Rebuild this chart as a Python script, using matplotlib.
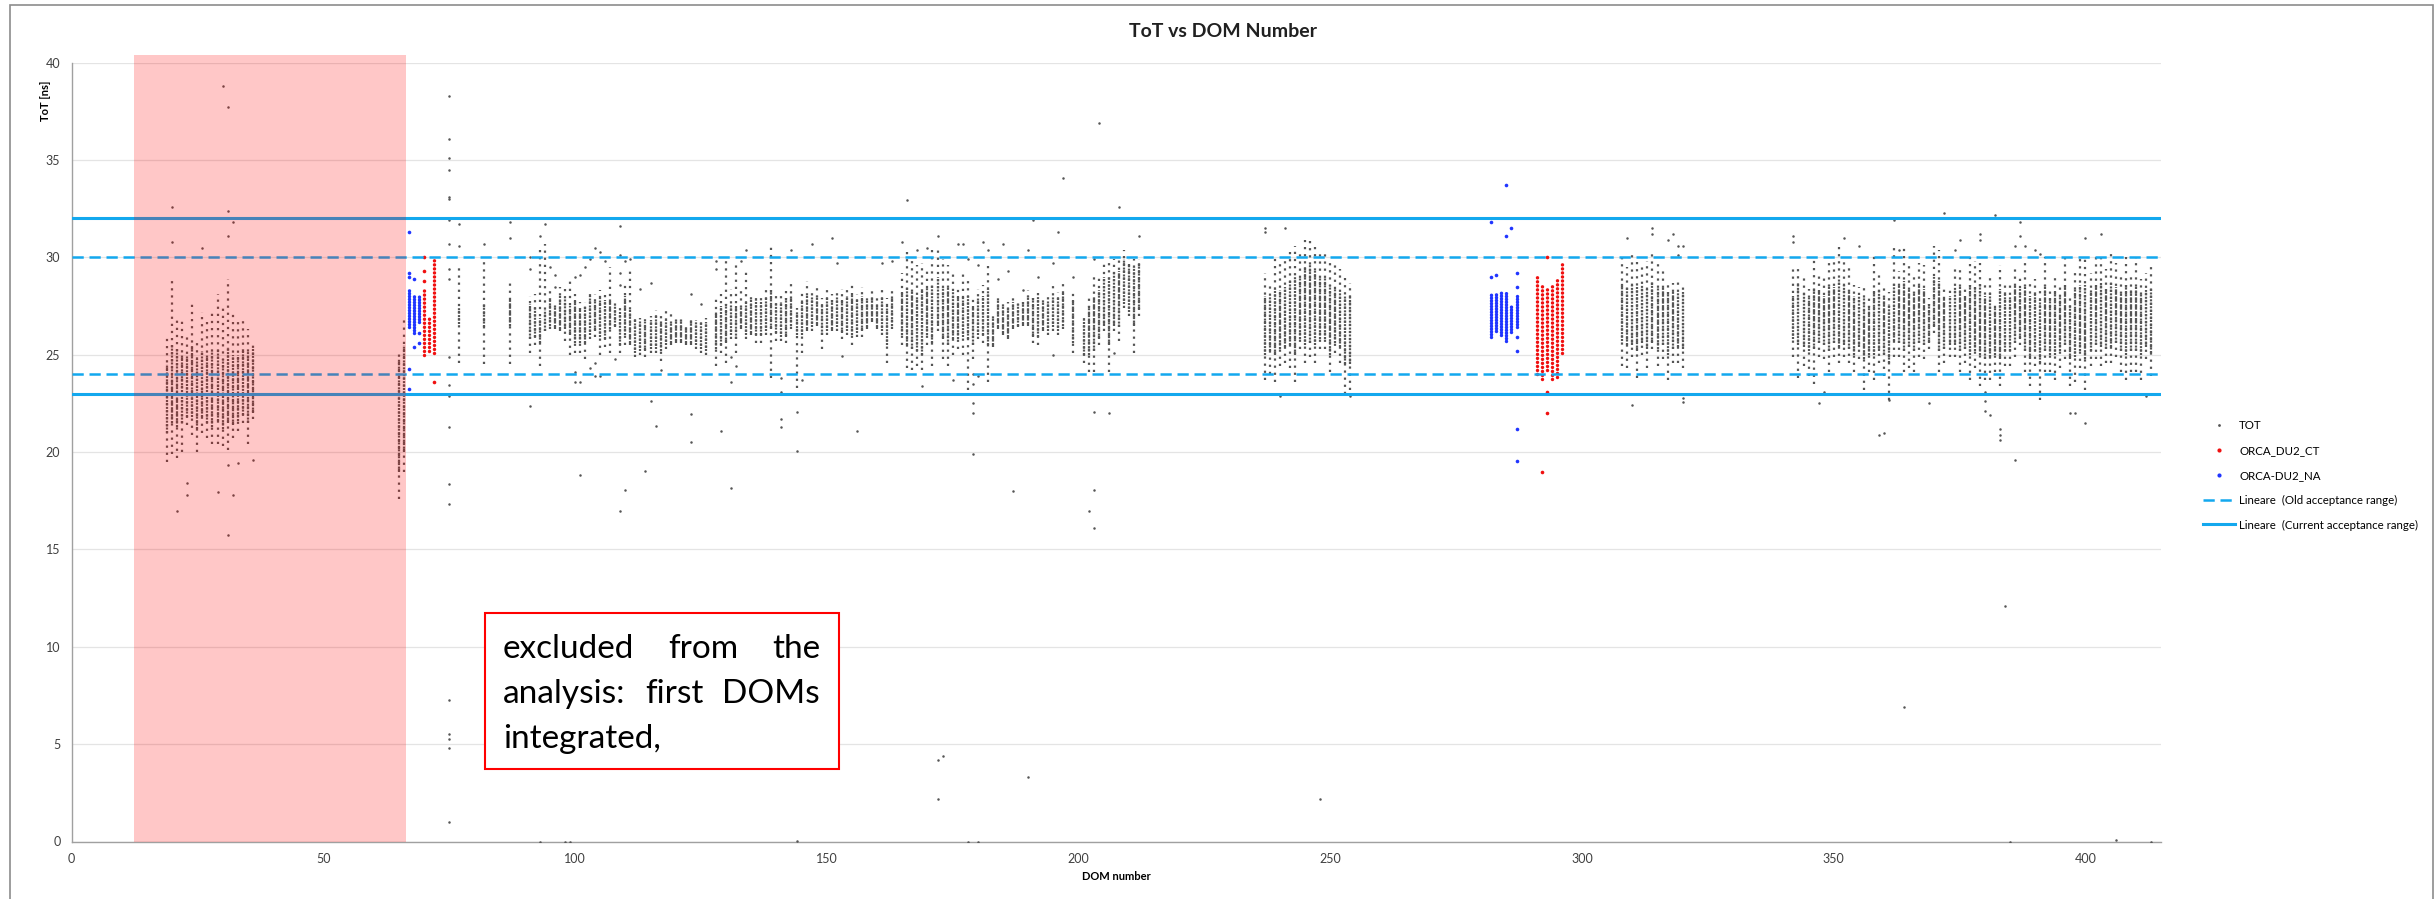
import matplotlib.pyplot as plt
import matplotlib.patches as mpatches
from matplotlib.lines import Line2D
import numpy as np

plt.rcParams['font.family'] = ['Lato', 'DejaVu Sans']

# ---------------- data ----------------
# TOT: per DOM, the span of PMT hits (lo..hi) and its densely populated core
tot_dom = (list(range(19, 37)) + [65, 66, 77, 82, 87]
           + list(range(91, 127)) + list(range(128, 164)) + list(range(165, 198))
           + [199] + list(range(201, 213))
           + list(range(237, 255)) + list(range(308, 321)) + list(range(342, 414)))

tot_lo = [
    19.5, 19.9, 19.7, 20.0, 21.4, 20.9, 20.0, 21.0, 20.7, 20.4, 20.4, 20.3, 20.1, 20.7, 21.1, 21.5, 20.4, 21.7,
    17.6, 19.0, 24.6, 24.5, 24.5,
    25.1, 25.5, 24.4, 26.2, 26.3, 26.3, 26.2, 25.7, 25.0, 25.1,
    25.1, 24.8, 25.8, 25.9, 25.0, 25.4, 25.1, 26.4, 25.1, 25.5,
    25.5, 24.9, 25.0, 24.9, 25.1, 25.1, 24.7, 25.3, 25.5, 25.6,
    25.6, 25.5, 25.5, 25.3, 25.1, 25.0,
    24.4, 25.1, 24.6, 25.8, 25.1, 26.3, 25.8, 26.0, 25.6, 25.6,
    26.0, 23.8, 25.7, 25.7, 25.6, 26.3, 23.3, 25.1, 26.2, 26.2,
    26.5, 25.3, 26.0, 26.2, 26.2, 25.8, 26.0, 25.5, 25.9, 25.9,
    26.3, 26.7, 26.3, 26.0, 24.6, 26.3,
    25.5, 24.3, 24.2, 24.4, 24.2, 25.5, 24.4, 26.2, 24.8, 24.4,
    25.0, 25.3, 25.0, 23.2, 24.8, 25.8, 25.6, 23.6, 25.4, 26.3,
    26.0, 25.8, 26.3, 26.4, 26.5, 26.5, 25.6, 25.5, 26.2, 26.0,
    26.2, 26.0, 26.3,
    25.1,
    24.6, 24.1, 24.1, 25.5, 26.2, 24.1, 26.2, 25.7, 27.4, 27.0, 25.1, 27.0,
    23.7, 24.0, 23.6, 24.4, 24.6, 24.3, 23.6, 25.3, 24.6, 24.9, 24.6, 25.3, 25.3, 24.1, 25.1, 24.6, 23.0, 23.2,
    24.4, 24.3, 24.9, 23.8, 25.0, 24.3, 25.3, 24.4, 24.8, 23.7, 24.6, 24.6, 24.3,
    24.9, 23.8, 24.4, 23.9, 23.5, 24.9, 24.8, 24.1, 24.9, 24.6,
    24.9, 24.6, 24.1, 24.8, 23.2, 24.1, 23.7, 24.6, 23.9, 22.7,
    24.9, 24.9, 24.1, 24.3, 24.1, 24.9, 24.8, 25.3, 26.1, 24.1,
    24.6, 24.9, 24.9, 24.1, 24.6, 23.7, 24.3, 23.4, 23.7, 23.7,
    24.1, 23.4, 24.4, 24.4, 24.9, 25.5, 24.1, 23.4, 24.4, 22.7,
    24.1, 24.1, 23.7, 24.3, 24.8, 23.4, 23.6, 24.3, 23.2, 24.4,
    24.8, 24.4, 24.6, 24.6, 24.9, 24.1, 23.7, 24.1, 24.1, 23.7,
    24.8, 23.9,
]
tot_hi = [
    25.9, 28.8, 26.9, 26.9, 26.1, 27.7, 25.7, 27.2, 26.7, 27.3, 28.1, 27.4, 28.9, 27.3, 26.8, 26.9, 26.3, 25.6,
    25.2, 27.0, 29.5, 29.9, 28.9,
    28.0, 28.1, 30.6, 30.7, 28.3, 27.7, 28.5, 28.4, 29.0, 28.1,
    27.7, 27.7, 28.3, 28.1, 28.3, 28.1, 29.5, 27.7, 27.4, 28.6,
    29.4, 27.0, 26.9, 26.9, 27.0, 27.3, 27.0, 27.4, 27.2, 27.0,
    27.0, 26.6, 26.9, 26.8, 26.9, 26.9,
    28.0, 28.1, 29.8, 28.4, 29.8, 28.5, 29.3, 28.0, 28.0, 28.1,
    28.4, 30.7, 28.0, 28.1, 28.4, 28.8, 27.4, 28.4, 28.8, 28.4,
    28.6, 27.9, 28.4, 28.1, 28.3, 28.4, 28.5, 28.6, 28.1, 28.5,
    28.1, 28.4, 27.9, 28.3, 27.9, 28.3,
    29.2, 30.5, 30.0, 29.6, 29.7, 29.3, 30.4, 30.4, 29.9, 29.6,
    29.3, 28.4, 29.3, 29.0, 27.9, 28.4, 28.6, 29.6, 27.0, 28.0,
    27.7, 27.7, 27.9, 27.8, 27.9, 28.3, 28.1, 28.4, 27.9, 28.0,
    28.7, 28.2, 28.8,
    28.2,
    27.0, 27.9, 29.0, 29.0, 29.8, 29.9, 29.9, 29.9, 30.4, 29.9, 29.9, 29.9,
    29.2, 28.6, 30.2, 29.8, 30.0, 30.3, 30.6, 30.4, 30.9, 30.9, 30.6, 30.4, 30.4, 29.9, 29.6, 29.4, 29.1, 28.7,
    30.2, 29.5, 30.2, 29.8, 29.5, 29.8, 30.2, 29.8, 29.4, 28.7, 28.7, 28.8, 28.7,
    29.6, 29.5, 29.1, 28.4, 29.9, 29.2, 29.1, 29.8, 29.8, 30.6,
    29.8, 29.6, 28.6, 28.5, 28.5, 27.9, 30.3, 29.2, 28.6, 28.2,
    30.5, 29.3, 30.6, 29.7, 29.1, 29.7, 29.6, 27.9, 30.6, 30.4,
    28.4, 28.4, 29.4, 29.5, 28.5, 30.0, 29.8, 29.7, 28.6, 29.0,
    27.7, 29.6, 28.8, 28.7, 29.6, 29.1, 29.9, 28.7, 28.9, 28.4,
    30.0, 28.4, 29.1, 28.5, 30.2, 28.0, 29.4, 30.0, 29.9, 29.2,
    30.0, 30.2, 29.4, 30.2, 29.7, 29.1, 30.0, 29.1, 30.0, 28.9,
    29.2, 29.7,
]
tot_core_lo = [
    21.0, 21.5, 21.3, 21.5, 21.8, 21.8, 21.2, 21.8, 21.5, 21.3, 21.6, 21.2, 21.5, 21.4, 21.6, 21.9, 21.5, 22.0,
    19.0, 20.0, 26.6, 26.4, 26.5,
    25.8, 25.9, 25.6, 26.2, 26.5, 26.4, 26.3, 26.3, 26.0, 25.6,
    25.6, 25.6, 26.0, 26.2, 25.9, 25.8, 26.3, 26.5, 25.5, 26.0,
    25.6, 25.1, 25.2, 25.2, 25.3, 25.3, 25.2, 25.5, 25.6, 25.7,
    25.7, 25.6, 25.6, 25.5, 25.3, 25.2,
    25.3, 25.5, 25.6, 26.0, 25.8, 26.4, 26.0, 26.1, 26.0, 26.0,
    26.2, 26.3, 26.1, 25.9, 25.9, 26.5, 26.0, 26.0, 26.3, 26.4,
    26.6, 26.0, 26.2, 26.3, 26.4, 26.1, 26.2, 26.0, 26.1, 26.2,
    26.4, 26.8, 26.4, 26.2, 25.5, 26.5,
    26.0, 25.5, 25.3, 25.2, 25.0, 26.0, 25.6, 26.5, 25.8, 25.5,
    25.8, 25.8, 25.9, 25.8, 25.5, 26.0, 26.0, 25.5, 25.5, 26.4,
    26.1, 25.9, 26.4, 26.5, 26.6, 26.6, 25.9, 25.9, 26.3, 26.2,
    26.4, 26.2, 26.5,
    25.6,
    25.0, 25.0, 25.2, 25.8, 26.5, 25.5, 26.5, 26.4, 27.6, 27.2, 26.5, 27.3,
    25.0, 25.2, 25.0, 25.3, 25.4, 25.5, 25.0, 25.8, 25.5, 25.6, 25.5, 25.8, 25.8, 25.0, 25.6, 25.4, 24.5, 24.5,
    25.7, 25.5, 25.5, 25.2, 25.6, 25.3, 25.6, 25.3, 25.5, 25.0, 25.3, 25.4, 25.3,
    25.8, 25.5, 25.4, 25.2, 25.3, 25.6, 25.5, 25.2, 25.6, 25.4,
    25.5, 25.3, 25.0, 25.4, 24.8, 25.0, 25.0, 25.2, 25.0, 24.6,
    25.7, 25.6, 25.2, 25.4, 25.2, 25.6, 25.5, 25.6, 26.4, 25.2,
    25.3, 25.5, 25.5, 25.2, 25.3, 25.0, 25.2, 25.0, 24.8, 24.9,
    25.0, 24.8, 25.2, 25.2, 25.6, 25.8, 25.2, 24.8, 25.2, 24.6,
    25.2, 25.0, 25.0, 25.2, 25.5, 24.8, 24.9, 25.2, 24.8, 25.2,
    25.5, 25.4, 25.3, 25.4, 25.6, 25.2, 25.0, 25.2, 25.2, 25.0,
    25.4, 25.1,
]
tot_core_hi = [
    24.5, 25.5, 25.3, 25.0, 25.0, 25.5, 24.8, 25.2, 25.0, 25.2, 25.3, 24.8, 25.4, 25.0, 25.0, 25.3, 25.2, 25.3,
    24.8, 25.5, 27.4, 27.6, 27.8,
    27.6, 27.5, 26.9, 27.3, 27.9, 27.5, 28.0, 27.9, 27.5, 27.8,
    27.4, 27.5, 28.0, 27.8, 27.9, 27.8, 27.9, 27.5, 27.2, 28.0,
    27.3, 26.8, 26.8, 26.7, 26.8, 27.0, 26.8, 26.8, 26.6, 26.8,
    26.8, 26.5, 26.8, 26.7, 26.7, 26.7,
    27.2, 27.5, 27.6, 27.6, 27.5, 27.5, 27.7, 27.8, 27.8, 27.7,
    27.9, 28.3, 27.7, 27.7, 27.9, 28.0, 27.2, 27.8, 28.0, 28.0,
    28.0, 27.6, 27.9, 27.8, 28.0, 27.8, 28.0, 28.1, 27.8, 28.0,
    27.8, 28.0, 27.6, 27.9, 27.5, 28.0,
    28.2, 28.5, 28.2, 28.0, 28.4, 28.5, 28.6, 29.0, 28.5, 28.5,
    28.2, 28.0, 28.0, 28.0, 27.5, 27.9, 28.0, 28.4, 26.9, 27.8,
    27.5, 27.5, 27.7, 27.6, 27.7, 28.0, 27.9, 28.0, 27.7, 27.8,
    28.0, 27.9, 28.2,
    27.8,
    26.8, 27.5, 28.0, 28.3, 29.0, 29.0, 29.3, 29.3, 29.9, 29.6, 29.5, 29.7,
    28.0, 28.0, 28.4, 28.3, 28.5, 28.8, 29.0, 29.0, 29.5, 29.6, 29.3, 29.0, 29.0, 28.6, 28.4, 28.2, 28.0, 28.0,
    28.7, 28.5, 28.6, 28.5, 28.6, 28.4, 28.8, 28.5, 28.5, 28.2, 28.2, 28.2, 28.2,
    28.0, 28.7, 28.2, 27.9, 28.5, 28.3, 28.0, 28.6, 28.5, 28.9,
    28.6, 28.3, 28.0, 28.0, 27.9, 27.5, 28.3, 28.4, 28.0, 27.6,
    28.7, 28.6, 28.8, 28.4, 28.2, 28.6, 28.4, 27.6, 29.0, 28.8,
    27.9, 28.0, 28.5, 28.5, 28.0, 28.6, 28.5, 28.7, 28.0, 28.2,
    27.4, 28.4, 28.2, 28.0, 28.6, 28.4, 28.6, 28.0, 28.2, 27.8,
    28.6, 27.9, 28.3, 28.0, 28.6, 27.6, 28.4, 28.6, 28.6, 28.3,
    28.6, 28.7, 28.4, 28.7, 28.5, 28.2, 28.6, 28.3, 28.5, 28.1,
    28.3, 28.4,
]

# TOT: isolated hits away from the columns
stray_dom = [20, 20, 26, 30, 31, 31, 32, 31, 21, 31, 23, 23, 29, 32, 31, 33, 36,
             75, 75, 75, 75, 75, 75, 75, 75, 75, 75, 75, 75, 75, 75, 75, 75, 75, 75, 75, 75, 75,
             77, 77, 82, 87, 87,
             91, 91, 91, 93, 94, 95, 96, 96, 100, 100, 100, 101, 101, 101, 102, 103, 103,
             104, 104, 104, 105, 105, 106, 108, 109, 109, 109, 109, 109, 110, 110, 111,
             113, 114, 115, 115, 116, 117, 123, 123, 123, 125, 128, 128, 129,
             131, 131, 131, 132, 133, 134, 141, 141, 141, 141, 143, 144, 144, 145, 147,
             151, 152, 153, 156, 161, 163, 165, 166, 168, 169, 170, 172, 172, 173, 172,
             175, 176, 177, 178, 179, 179, 179, 179, 179, 179, 180, 180, 181, 182, 184,
             185, 186, 187, 189, 190, 190, 191, 192, 195, 195, 196, 197, 199,
             202, 203, 203, 203, 203, 204, 205, 206, 207, 208, 212,
             93, 98, 99, 144, 178, 180,
             237, 237, 241, 245, 240, 254, 248,
             309, 310, 314, 314, 317, 318, 319, 319, 320, 320, 320,
             342, 342, 347, 348, 352, 355, 361, 362, 363, 369, 372, 374, 375, 379, 379,
             380, 380, 380, 381, 382, 383, 383, 383, 386, 386, 387, 387, 388, 390, 391,
             397, 398, 400, 400, 403, 405, 412, 359, 360, 384, 364, 385, 406, 413]
stray_tot = [32.6, 30.8, 30.5, 38.8, 37.7, 32.4, 31.8, 31.1, 16.95, 15.75, 18.4, 17.8, 17.96, 17.8, 19.35, 19.46, 19.6,
             38.3, 36.1, 35.1, 34.5, 33.1, 33.0, 31.9, 30.7, 29.4, 28.9, 24.9, 23.45, 22.9, 21.27, 18.35, 17.36,
             7.25, 5.54, 5.24, 4.82, 0.99,
             31.7, 30.6, 30.7, 31.8, 31.0,
             30.0, 29.4, 22.35, 31.1, 31.7, 29.5, 29.1, 28.5, 29.0, 24.1, 23.6, 29.1, 23.6, 18.8, 29.5, 29.9, 24.3,
             30.5, 24.6, 23.9, 30.3, 23.9, 29.8, 24.8, 31.6, 30.1, 29.2, 28.6, 17.0, 29.8, 18.06, 29.9,
             28.4, 19.04, 28.7, 22.6, 21.35, 24.2, 28.1, 21.95, 20.5, 27.6, 29.8, 29.4, 21.06,
             24.9, 23.6, 18.15, 24.4, 29.8, 30.4, 23.8, 23.1, 21.7, 21.3, 30.4, 22.05, 20.05, 23.7, 30.7,
             31.0, 29.7, 24.95, 21.06, 29.7, 29.8, 30.8, 32.95, 30.4, 23.4, 30.5, 31.1, 4.2, 4.4, 2.2,
             23.7, 30.7, 30.7, 29.9, 24.0, 23.5, 23.0, 22.5, 22.0, 19.9, 29.6, 23.9, 30.8, 30.4, 28.9,
             30.7, 29.3, 18.0, 28.3, 30.4, 3.3, 31.9, 29.0, 29.7, 25.0, 31.3, 34.1, 29.0,
             17.0, 16.1, 29.9, 22.05, 18.05, 36.9, 32.0, 22.0, 25.1, 32.6, 31.1,
             0.0, 0.0, 0.0, 0.05, 0.0, 0.0,
             31.5, 31.3, 31.5, 32.0, 22.9, 22.9, 2.2,
             31.0, 22.4, 31.5, 31.2, 30.9, 31.2, 30.6, 30.1, 30.6, 22.8, 22.55,
             31.1, 30.8, 22.5, 23.1, 31.0, 30.6, 22.7, 31.9, 30.4, 22.5, 32.3, 30.4, 30.9, 31.2, 30.9,
             23.1, 22.6, 22.1, 21.9, 32.2, 21.2, 20.9, 20.6, 19.6, 30.6, 31.8, 31.1, 30.6, 30.4, 30.2,
             22.0, 22.0, 21.5, 31.0, 31.2, 32.0, 22.9, 20.9, 21.0, 12.1, 6.9, 0.0, 0.1, 0.0]

# ORCA_DU2_CT (red) and ORCA-DU2_NA (blue) columns
ct_dom = [70, 71, 72, 291, 292, 293, 294, 295, 296]
ct_lo = [25.0, 25.2, 25.1, 24.0, 23.75, 24.2, 23.75, 23.85, 25.1]
ct_hi = [28.4, 26.9, 30.0, 29.0, 28.7, 28.55, 28.7, 29.0, 29.75]
ct_stray_dom = [70, 70, 70, 72, 292, 293, 293, 293]
ct_stray_tot = [30.0, 29.3, 28.8, 23.6, 19.0, 30.0, 23.1, 22.0]

na_dom = [67, 68, 69, 282, 283, 284, 285, 286, 287]
na_lo = [26.4, 26.1, 26.7, 25.9, 26.2, 26.0, 25.7, 26.15, 26.4]
na_hi = [28.3, 28.1, 28.0, 28.1, 28.2, 28.2, 28.2, 27.5, 28.0]
na_stray_dom = [67, 67, 67, 67, 67, 68, 68, 69, 69, 282, 282, 283, 285, 285, 286,
                287, 287, 287, 287, 287, 287]
na_stray_tot = [31.3, 29.2, 29.0, 24.25, 23.25, 28.9, 25.4, 26.1, 25.6, 31.8, 29.0, 29.1, 33.7, 31.1, 31.5,
                29.2, 28.5, 25.9, 25.2, 21.2, 19.55]

old_range = [24, 30]
current_range = [23, 32]

# ---------------- figure ----------------
W, H = 2435, 899
fig = plt.figure(figsize=(W / 100, H / 100), dpi=100)
ax = fig.add_axes([71.5 / W, 1 - 841.5 / H, 2089.5 / W, 778.8 / H])
ax.set_xlim(0, 415)
ax.set_ylim(0, 40)

dark = '#555555'
# outer, sparsely populated part of each column
ax.vlines(tot_dom, tot_lo, tot_hi, colors=dark, linewidths=1.6,
          linestyles=[(0, (1.0, 2.2))], zorder=3)
# dense core
ax.vlines(tot_dom, tot_core_lo, tot_core_hi, colors=dark, linewidths=1.6,
          linestyles=[(0, (0.9, 0.65))], zorder=3)
ax.plot(stray_dom, stray_tot, 'o', ms=1.8, mew=0, color=dark, zorder=3)

red = '#F01010'
blue = '#2035FF'
lc = ax.vlines(ct_dom, ct_lo, ct_hi, colors=red, linewidths=2.5,
               linestyles=[(0, (0.01, 1.15))], zorder=4)
lc.set_capstyle('round')
ax.plot(ct_stray_dom, ct_stray_tot, 'o', ms=2.6, mew=0, color=red, zorder=4)
lc = ax.vlines(na_dom, na_lo, na_hi, colors=blue, linewidths=2.5,
               linestyles=[(0, (0.01, 0.8))], zorder=4)
lc.set_capstyle('round')
ax.plot(na_stray_dom, na_stray_tot, 'o', ms=2.6, mew=0, color=blue, zorder=4)

line_color = '#13A8EE'
for v in old_range:
    ax.axhline(v, color=line_color, lw=1.8, ls=(0, (4.5, 2.3)), zorder=5)
for v in current_range:
    ax.axhline(v, color=line_color, lw=2.2, zorder=5)

# shaded block: DOMs left out of the analysis
ax.add_patch(mpatches.Rectangle((12.5, 0), 54.0, 40.4, facecolor='red', alpha=0.22,
                                edgecolor='none', zorder=6, clip_on=False))

ax.set_yticks(range(0, 41, 5))
ax.set_xticks(range(0, 401, 50))
ax.yaxis.grid(True, color='#E4E4E4', lw=0.9)
ax.set_axisbelow(True)
ax.tick_params(length=0, labelsize=9, colors='#404040')
ax.tick_params(axis='y', pad=8)
ax.tick_params(axis='x', pad=8.5)
for s in ['top', 'right']:
    ax.spines[s].set_visible(False)
for s in ['left', 'bottom']:
    ax.spines[s].set_color('#A0A0A0')
    ax.spines[s].set_linewidth(1.0)

fig.text(1223 / W, 1 - 31.5 / H, 'ToT vs DOM Number', ha='center', va='center',
         fontsize=14, fontweight='bold', color='#202020')
fig.text(45.5 / W, 1 - 101 / H, 'ToT [ns]', rotation=90, ha='center', va='center',
         fontsize=8, fontweight='bold')
fig.text(1116 / W, 1 - 877 / H, 'DOM number', ha='center', va='center',
         fontsize=8, fontweight='bold')

handles = [
    Line2D([], [], ls='none', marker='o', ms=2.0, mew=0, color=dark),
    Line2D([], [], ls='none', marker='o', ms=3.0, mew=0, color=red),
    Line2D([], [], ls='none', marker='o', ms=3.0, mew=0, color=blue),
    Line2D([], [], color=line_color, lw=1.8, ls=(0, (4.5, 2.3))),
    Line2D([], [], color=line_color, lw=2.2),
]
labels = ['TOT', 'ORCA_DU2_CT', 'ORCA-DU2_NA', 'Lineare  (Old acceptance range)',
          'Lineare  (Current acceptance range)']
fig.legend(handles, labels, loc='center left', bbox_to_anchor=(2197 / W, 1 - 475.3 / H),
           frameon=False, fontsize=8.3, handlelength=2.8, handletextpad=0.35,
           labelspacing=1.2, borderpad=0)

# note box
bx0, by0, bx1, by1 = 484.5, 613.0, 838.6, 769.0
fig.add_artist(mpatches.Rectangle((bx0 / W, 1 - by1 / H), (bx1 - bx0) / W, (by1 - by0) / H,
                                  transform=fig.transFigure, facecolor='white',
                                  edgecolor='#FF0000', lw=1.5, zorder=10))
note_lines = [(['excluded', 'from', 'the'], 658, True),
              (['analysis:', 'first', 'DOMs'], 703, True),
              (['integrated,'], 748, False)]
renderer = fig.canvas.get_renderer()
tx0, tx1 = 503, 820
for words, base, justify in note_lines:
    texts = [fig.text(tx0 / W, 1 - base / H, w, fontsize=24, va='baseline', ha='left',
                      zorder=11) for w in words]
    widths = [t.get_window_extent(renderer).width for t in texts]
    gap = (tx1 - tx0 - sum(widths)) / (len(words) - 1) if justify else 0
    x = tx0
    for t, w in zip(texts, widths):
        t.set_x(x / W)
        x += w + gap

# chart border
fig.add_artist(mpatches.Rectangle((10 / W, -0.01), 2423 / W, 1.01 - 5 / H,
                                  transform=fig.transFigure, fill=False,
                                  edgecolor='#8C8C8C', lw=1.2))

fig.savefig('out.png', dpi=100)
